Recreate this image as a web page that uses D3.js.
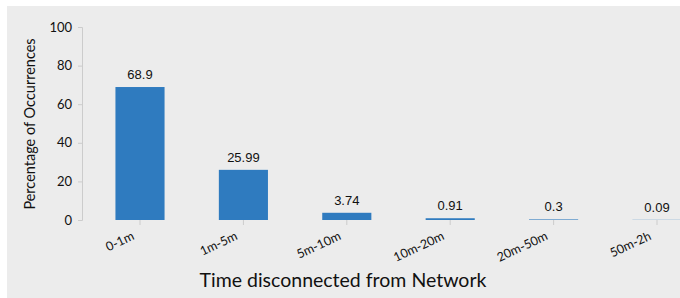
<!DOCTYPE html>
<html><head><meta charset="utf-8">
<script src="https://cdn.jsdelivr.net/npm/d3@7"></script>
<style>
html,body{margin:0;padding:0;background:#fff;}
svg{display:block;}
</style></head>
<body>
<script>
const categories = ["0-1m","1m-5m","5m-10m","10m-20m","20m-50m","50m-2h"];
const values = [68.9, 25.99, 3.74, 0.91, 0.3, 0.09];
const valueLabels = ["68.9","25.99","3.74","0.91","0.3","0.09"];
const yTicks = [0,20,40,60,80,100];

const W = 680, H = 298;
const svg = d3.select("body").append("svg").attr("width", W).attr("height", H);
svg.append("rect").attr("x",7).attr("y",6).attr("width",W-7).attr("height",H-6).attr("fill","#ececec");

const x = d3.scaleBand().domain(categories).range([88.3, 708.7]).paddingInner(0.525).paddingOuter(0.2625);
const y = d3.scaleLinear().domain([0,100]).range([220, 27]);

// y axis
const ya = svg.append("g").attr("transform","translate(82,0)")
  .call(d3.axisLeft(y).tickValues(yTicks).tickSize(4).tickPadding(6));
ya.selectAll("path,line").attr("stroke","#cccccc");
ya.selectAll("text").attr("font-family","Lato").attr("font-size",13).attr("fill","#111");

// x axis
const xa = svg.append("g").attr("transform","translate(0,220)")
  .call(d3.axisBottom(x).tickSize(5).tickSizeOuter(0));
xa.select(".domain").remove();
xa.selectAll("line").attr("stroke","#cccccc");
xa.selectAll("text").attr("font-family","Lato").attr("font-size",12.5).attr("fill","#111")
  .attr("text-anchor","end").attr("dy",null).attr("y",0)
  .attr("transform","translate(-5,19) rotate(-25)");

// bars
svg.append("g").selectAll("rect").data(values).join("rect")
  .attr("x",(d,i)=>x(categories[i]))
  .attr("width",x.bandwidth())
  .attr("y",d=>y(d))
  .attr("height",d=>y(0)-y(d))
  .attr("fill","#2f7bbf");

// value labels
svg.append("g").selectAll("text").data(values).join("text")
  .attr("x",(d,i)=>x(categories[i])+x.bandwidth()/2)
  .attr("y",d=>y(d)-8)
  .attr("text-anchor","middle")
  .attr("font-family","Liberation Sans, Arial")
  .attr("font-size",13).attr("fill","#111")
  .text((d,i)=>valueLabels[i]);

// axis titles
svg.append("text").attr("transform","translate(35,124) rotate(-90)")
  .attr("text-anchor","middle").attr("font-family","Lato").attr("font-size",14.5).attr("fill","#111")
  .text("Percentage of Occurrences");
svg.append("text").attr("x",343).attr("y",287)
  .attr("text-anchor","middle").attr("font-family","Lato").attr("font-size",19.5).attr("fill","#111")
  .text("Time disconnected from Network");
</script>
</body></html>
